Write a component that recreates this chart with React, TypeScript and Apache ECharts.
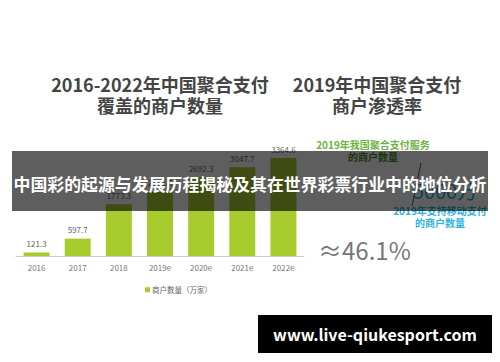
import React, { useEffect, useRef } from "react";
import * as echarts from "echarts";

const categories = ["2016", "2017", "2018", "2019e", "2020e", "2021e", "2022e"];
const merchantCounts = [121.3, 597.7, 1773.3, 2203.6, 2692.3, 3047.7, 3364.6];
const legendName = "商户数量（万家）";
const leftTitle = "2016-2022年中国聚合支付\n覆盖的商户数量";
const rightTitle = "2019年中国聚合支付\n商户渗透率";
const greenLabel = "2019年我国聚合支付服务";
const greenLabel2 = "的商户数量";
const blueNumber = "5000万";
const blueLabel = "2019年支持移动支付";
const blueLabel2 = "的商户数量";
const penetration = "≈46.1%";
const bannerText = "中国彩的起源与发展历程揭秘及其在世界彩票行业中的地位分析";
const watermark = "www.live-qiukesport.com";

const FONT = "'Noto Sans CJK SC', 'Noto Sans', sans-serif";

export default function App() {
  const ref = useRef<HTMLDivElement>(null);
  useEffect(() => {
    if (!ref.current) return;
    const chart = echarts.init(ref.current, null, { renderer: "svg" });
    chart.setOption({
      animation: false,
      backgroundColor: "#ffffff",
      textStyle: { fontFamily: FONT },
      grid: { left: 16, right: 196, top: 139.5, bottom: 106, containLabel: false },
      xAxis: {
        type: "category",
        data: categories,
        axisLine: { lineStyle: { color: "#cccccc", width: 1 } },
        axisTick: { show: false },
        axisLabel: { color: "#777777", fontSize: 8, margin: 7, fontFamily: FONT },
      },
      yAxis: { type: "value", min: 0, max: 4000, show: false, splitLine: { show: false } },
      legend: {
        data: [legendName],
        left: 140,
        top: 281,
        icon: "rect",
        itemWidth: 5,
        itemHeight: 5,
        itemGap: 2,
        textStyle: { color: "#666666", fontSize: 7.5, fontFamily: FONT, padding: [0, 0, 0, -3] },
      },
      series: [
        {
          name: legendName,
          type: "bar",
          data: merchantCounts,
          barWidth: 26,
          itemStyle: { color: "#a8cc2e" },
          label: { show: true, position: "top", distance: 5, color: "#666666", fontSize: 8, fontFamily: FONT },
        },
      ],
      graphic: [
        {
          type: "text",
          x: 160,
          y: 73,
          style: {
            text: leftTitle,
            fill: "#444444",
            font: `bold 18px ${FONT}`,
            textAlign: "center",
            lineHeight: 21,
          },
        },
        {
          type: "text",
          x: 377,
          y: 73,
          style: {
            text: rightTitle,
            fill: "#444444",
            font: `bold 18px ${FONT}`,
            textAlign: "center",
            lineHeight: 21,
          },
        },
        {
          type: "text",
          x: 373,
          y: 139,
          style: { text: greenLabel, fill: "#6db33f", font: `bold 10px ${FONT}`, textAlign: "center" },
        },
        {
          type: "text",
          x: 373,
          y: 151,
          style: { text: greenLabel2, fill: "#4e8a2a", font: `bold 10px ${FONT}`, textAlign: "center" },
        },
        {
          type: "line",
          shape: { x1: 421, y1: 163, x2: 412, y2: 206 },
          style: { stroke: "#555555", lineWidth: 1 },
        },
        {
          type: "text",
          x: 445,
          y: 180,
          style: { text: blueNumber, fill: "#2aa8d8", font: `20px ${FONT}`, textAlign: "center" },
        },
        {
          type: "text",
          x: 440,
          y: 205,
          style: { text: blueLabel, fill: "#2bb3e0", font: `bold 10px ${FONT}`, textAlign: "center" },
        },
        {
          type: "text",
          x: 440,
          y: 217,
          style: { text: blueLabel2, fill: "#2bb3e0", font: `bold 10px ${FONT}`, textAlign: "center" },
        },
        {
          type: "text",
          x: 318,
          y: 237,
          style: { text: penetration, fill: "#777777", font: `24px ${FONT}`, textAlign: "left" },
        },
        {
          type: "rect",
          z: 100,
          shape: { x: 12, y: 151, width: 476, height: 60 },
          style: { fill: "rgba(0,0,0,0.63)" },
        },
        {
          type: "text",
          z: 101,
          x: 250,
          y: 183,
          style: {
            text: bannerText,
            fill: "#ffffff",
            font: `bold 16.9px ${FONT}`,
            textAlign: "center",
            textVerticalAlign: "middle",
          },
        },
        {
          type: "rect",
          z: 100,
          shape: { x: 258, y: 315, width: 234, height: 38 },
          style: { fill: "#000000" },
        },
        {
          type: "text",
          z: 101,
          x: 375,
          y: 334,
          style: {
            text: watermark,
            fill: "#ffffff",
            font: `bold 16px ${FONT}`,
            textAlign: "center",
            textVerticalAlign: "middle",
          },
        },
      ],
    });
    return () => chart.dispose();
  }, []);
  return (
    <div
      ref={ref}
      style={{ position: "fixed", left: 0, top: 0, width: 500, height: 362 }}
    />
  );
}
